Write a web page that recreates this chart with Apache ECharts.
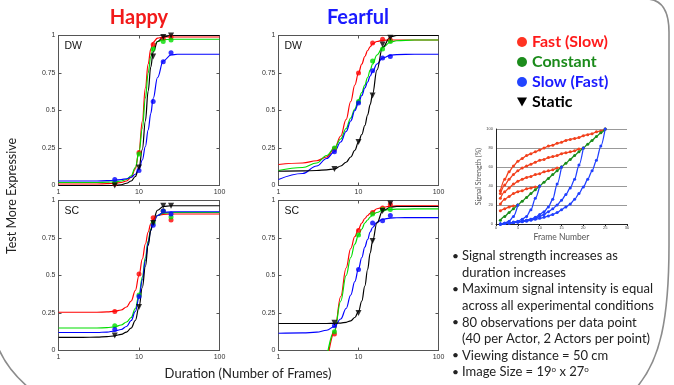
<!DOCTYPE html>
<html>
<head>
<meta charset="utf-8">
<script src="https://cdn.jsdelivr.net/npm/echarts@6/dist/echarts.min.js"></script>
<style>
html, body { margin: 0; padding: 0; background: #fff; }
#main { width: 674px; height: 385px; }
</style>
</head>
<body>
<div id="main"></div>
<script>
// durations where the data points were measured
const durations = [5, 10, 15, 20, 25];
const fitX = [1, 2, 3, 4, 5, 6, 7, 8, 9, 10, 11, 12, 13, 14, 15, 17, 20, 25, 30, 50, 100];
const conditionNames = ['Fast (Slow)', 'Constant', 'Slow (Fast)', 'Static'];

// Happy - DW
const happyDwFast = [0.01, 0.22, 0.94, 0.98, 0.99];
const happyDwConst = [0.02, 0.21, 0.91, 0.96, 0.97];
const happyDwSlow = [0.04, 0.10, 0.56, 0.825, 0.885];
const happyDwStatic = [0.0, 0.12, 0.86, 0.99, 1.0];
const happyDwFastFit = [0.01, 0.01, 0.01, 0.012, 0.015, 0.02, 0.03, 0.055, 0.11, 0.23, 0.43, 0.65, 0.81, 0.91, 0.955, 0.983, 0.99, 0.99, 0.99, 0.99, 0.99];
const happyDwConstFit = [0.02, 0.02, 0.02, 0.022, 0.025, 0.03, 0.04, 0.065, 0.12, 0.22, 0.38, 0.58, 0.75, 0.86, 0.92, 0.96, 0.972, 0.975, 0.975, 0.975, 0.975];
const happyDwSlowFit = [0.03, 0.03, 0.03, 0.032, 0.035, 0.04, 0.045, 0.055, 0.075, 0.11, 0.17, 0.26, 0.37, 0.48, 0.58, 0.72, 0.83, 0.87, 0.875, 0.875, 0.875];
const happyDwStaticFit = [0, 0, 0, 0, 0, 0.005, 0.015, 0.03, 0.06, 0.12, 0.24, 0.43, 0.63, 0.79, 0.89, 0.96, 0.99, 1, 1, 1, 1];

// Happy - SC
const happyScFast = [0.26, 0.51, 0.885, 0.93, 0.87];
const happyScConst = [0.165, 0.37, 0.85, 0.93, 0.89];
const happyScSlow = [0.14, 0.36, 0.835, 0.93, 0.91];
const happyScStatic = [0.10, 0.29, 0.85, 0.965, 0.965];
const happyScFastFit = [0.255, 0.255, 0.255, 0.257, 0.262, 0.27, 0.29, 0.33, 0.40, 0.50, 0.61, 0.71, 0.79, 0.845, 0.875, 0.90, 0.908, 0.91, 0.91, 0.91, 0.91];
const happyScConstFit = [0.15, 0.15, 0.15, 0.152, 0.158, 0.17, 0.19, 0.22, 0.28, 0.37, 0.49, 0.62, 0.73, 0.81, 0.86, 0.90, 0.915, 0.92, 0.92, 0.92, 0.92];
const happyScSlowFit = [0.12, 0.12, 0.12, 0.123, 0.13, 0.14, 0.16, 0.20, 0.26, 0.35, 0.47, 0.60, 0.72, 0.80, 0.85, 0.90, 0.92, 0.925, 0.925, 0.925, 0.925];
const happyScStaticFit = [0.088, 0.088, 0.089, 0.092, 0.098, 0.108, 0.123, 0.15, 0.20, 0.29, 0.42, 0.56, 0.70, 0.80, 0.87, 0.935, 0.96, 0.965, 0.965, 0.965, 0.965];

// Fearful - DW
const fearDwFast = [0.245, 0.75, 0.95, 0.975, 0.97];
const fearDwConst = [0.25, 0.56, 0.83, 0.91, 0.96];
const fearDwSlow = [0.225, 0.55, 0.765, 0.85, 0.86];
const fearDwStatic = [0.11, 0.29, 0.60, 0.94, 0.985];
const fearDwFastFit = [0.14, 0.15, 0.165, 0.19, 0.245, 0.33, 0.44, 0.56, 0.67, 0.75, 0.81, 0.86, 0.90, 0.925, 0.945, 0.96, 0.968, 0.97, 0.97, 0.97, 0.97];
const fearDwConstFit = [0.10, 0.12, 0.15, 0.20, 0.25, 0.31, 0.38, 0.45, 0.51, 0.57, 0.62, 0.67, 0.72, 0.77, 0.81, 0.87, 0.92, 0.955, 0.965, 0.97, 0.97];
const fearDwSlowFit = [0.04, 0.08, 0.13, 0.18, 0.225, 0.29, 0.36, 0.43, 0.50, 0.55, 0.60, 0.65, 0.69, 0.73, 0.76, 0.81, 0.85, 0.868, 0.873, 0.875, 0.875];
const fearDwStaticFit = [0.095, 0.097, 0.10, 0.104, 0.11, 0.13, 0.155, 0.19, 0.235, 0.29, 0.34, 0.40, 0.47, 0.54, 0.61, 0.77, 0.92, 0.99, 1, 1, 1];

// Fearful - SC
const fearScFast = [0.11, 0.80, 0.92, 0.95, 0.975];
const fearScConst = [0.125, 0.77, 0.91, 0.94, 0.94];
const fearScSlow = [0.165, 0.54, 0.85, 0.865, 0.90];
const fearScStatic = [0.185, 0.25, 0.73, 0.93, 0.98];
const fearScFastFit = [null, null, null, -0.1, 0.12, 0.36, 0.55, 0.68, 0.76, 0.81, 0.85, 0.88, 0.90, 0.915, 0.925, 0.945, 0.955, 0.962, 0.964, 0.965, 0.965];
const fearScConstFit = [null, null, null, -0.05, 0.13, 0.33, 0.50, 0.62, 0.71, 0.77, 0.81, 0.85, 0.87, 0.89, 0.905, 0.92, 0.935, 0.94, 0.942, 0.944, 0.944];
const fearScSlowFit = [0.115, 0.117, 0.122, 0.135, 0.16, 0.21, 0.28, 0.37, 0.46, 0.545, 0.62, 0.69, 0.74, 0.79, 0.82, 0.855, 0.875, 0.883, 0.885, 0.886, 0.886];
const fearScStaticFit = [0.18, 0.18, 0.18, 0.18, 0.181, 0.183, 0.188, 0.198, 0.22, 0.26, 0.33, 0.43, 0.54, 0.65, 0.73, 0.85, 0.93, 0.955, 0.96, 0.96, 0.96];

// inset: signal strength (%) per frame, starting at frame 1
const insetFastA = [35, 47, 55, 61, 66, 69, 72, 74, 76, 78, 80, 82, 83, 85, 86, 88, 89, 90, 91, 93, 94, 95, 97, 98, 100];
const insetFastB = [32, 41, 47, 52, 56, 59, 61, 63, 65, 67, 68, 70, 71, 72, 74, 75, 76, 77, 79, 80];
const insetFastC = [27, 34, 38, 42, 45, 47, 49, 50, 52, 53, 55, 56, 57, 59, 60];
const insetFastD = [21, 26, 29, 32, 34, 35, 37, 38, 39, 40];
const insetFastE = [14, 16, 18, 19, 20];
const insetConstant = [4, 8, 12, 16, 20, 24, 28, 32, 36, 40, 44, 48, 52, 56, 60, 64, 68, 72, 76, 80, 84, 88, 92, 96, 100];
const insetSlowA = [0, 0.5, 1, 1.5, 2, 2.5, 3, 4, 5, 6, 7, 8.5, 10, 12, 15, 18, 21, 26, 32, 39, 47, 56, 67, 82, 100];
const insetSlowB = [0, 0.5, 1, 1.5, 2, 3, 4, 5, 6, 8, 10, 13, 16, 20, 25, 31, 38, 47, 62, 80];
const insetSlowC = [0, 0.5, 1, 1.5, 2, 3, 4, 5, 7, 10, 13, 18, 26, 42, 60];
const insetSlowD = [0, 0.5, 1, 2, 3, 5, 8, 15, 27, 40];
const insetSlowE = [0, 1, 3, 8, 20];

const bulletLines = [
    ['Signal strength increases as', 'duration increases'],
    ['Maximum signal intensity is equal', 'across all experimental conditions'],
    ['80 observations per data point', '(40 per Actor, 2 Actors per point)'],
    ['Viewing distance = 50 cm'],
    ['Image Size = 19{s|o} x 27{s|o}']
];

const lineColors = ['#ff0000', '#00dd00', '#0000ff', '#000000'];
const axisColor = '#555';
const slideFont = 'Lato';

const panels = [
    { label: 'DW', grid: { left: 58.5, top: 35.5, width: 161, height: 150 },
      points: [happyDwFast, happyDwConst, happyDwSlow, happyDwStatic],
      fits: [happyDwFastFit, happyDwConstFit, happyDwSlowFit, happyDwStaticFit] },
    { label: 'SC', grid: { left: 58.5, top: 200.5, width: 161, height: 150 },
      points: [happyScFast, happyScConst, happyScSlow, happyScStatic],
      fits: [happyScFastFit, happyScConstFit, happyScSlowFit, happyScStaticFit] },
    { label: 'DW', grid: { left: 278.5, top: 35.5, width: 160, height: 150 },
      points: [fearDwFast, fearDwConst, fearDwSlow, fearDwStatic],
      fits: [fearDwFastFit, fearDwConstFit, fearDwSlowFit, fearDwStaticFit] },
    { label: 'SC', grid: { left: 278.5, top: 200.5, width: 160, height: 150 },
      points: [fearScFast, fearScConst, fearScSlow, fearScStatic],
      fits: [fearScFastFit, fearScConstFit, fearScSlowFit, fearScStaticFit] }
];

const grids = [];
const xAxes = [];
const yAxes = [];
const series = [];
const graphics = [];

panels.forEach((panel, gi) => {
    grids.push(panel.grid);
    const xBase = {
        gridIndex: gi, type: 'log', logBase: 10, min: 1, max: 100,
        axisLine: { show: true, onZero: false, lineStyle: { color: axisColor, width: 1 } },
        axisTick: { show: true, inside: true, length: 3, lineStyle: { color: axisColor } },
        splitLine: { show: false }
    };
    xAxes.push(Object.assign({}, xBase, {
        position: 'bottom',
        axisLabel: { fontSize: 7, color: '#333', margin: 3, fontFamily: 'Liberation Sans' }
    }));
    xAxes.push(Object.assign({}, xBase, { position: 'top', axisLabel: { show: false } }));

    const yBase = {
        gridIndex: gi, type: 'value', min: 0, max: 1, interval: 0.25,
        axisLine: { show: true, lineStyle: { color: axisColor, width: 1 } },
        axisTick: { show: true, inside: true, length: 3, lineStyle: { color: axisColor } },
        splitLine: { show: false }
    };
    yAxes.push(Object.assign({}, yBase, {
        position: 'left',
        axisLabel: { fontSize: 7, color: '#333', margin: 3, fontFamily: 'Liberation Sans' }
    }));
    yAxes.push(Object.assign({}, yBase, { position: 'right', axisLabel: { show: false } }));

    panel.fits.forEach((ys, c) => {
        series.push({
            name: conditionNames[c], type: 'line',
            xAxisIndex: 2 * gi, yAxisIndex: 2 * gi,
            data: fitX.map((x, k) => [x, ys[k]]),
            showSymbol: false, symbol: 'none',
            smooth: 0.4, smoothMonotone: 'x',
            lineStyle: { color: lineColors[c], width: 1.2 },
            z: 2
        });
    });
    panel.points.forEach((ys, c) => {
        const isStatic = c === 3;
        series.push({
            name: conditionNames[c], type: 'scatter',
            xAxisIndex: 2 * gi, yAxisIndex: 2 * gi,
            data: durations.map((x, k) => [x, ys[k]]),
            symbol: isStatic ? 'triangle' : 'circle',
            symbolRotate: isStatic ? 180 : 0,
            symbolSize: isStatic ? 6 : 5,
            itemStyle: { color: lineColors[c] },
            z: 3
        });
    });

    graphics.push({
        type: 'text', x: panel.grid.left + 6, y: panel.grid.top + 11,
        style: { text: panel.label, font: '10.5px "Liberation Sans"', fill: '#111',
                 textVerticalAlign: 'middle', verticalAlign: 'middle' }
    });
});

// inset chart
grids.push({ left: 496, top: 129, width: 131, height: 95 });
xAxes.push({
    gridIndex: 4, type: 'value', min: 0, max: 30, interval: 5,
    name: 'Frame Number', nameLocation: 'middle', nameGap: 9,
    nameTextStyle: { fontSize: 8.5, color: '#555', fontFamily: slideFont },
    axisLine: { show: true, onZero: false, lineStyle: { color: '#222', width: 1 } },
    axisTick: { show: true, length: 2, lineStyle: { color: '#222' } },
    axisLabel: { fontSize: 4, color: '#444', margin: 2 },
    splitLine: { show: false }
});
yAxes.push({
    gridIndex: 4, type: 'value', min: 0, max: 100, interval: 20,
    name: 'Signal Strength (%)', nameLocation: 'middle', nameGap: 12, nameRotate: 90,
    nameTextStyle: { fontSize: 7, color: '#555', fontFamily: slideFont },
    axisLine: { show: true, lineStyle: { color: '#222', width: 1 } },
    axisTick: { show: false },
    axisLabel: { fontSize: 4, color: '#444', margin: 3 },
    splitLine: { show: true, lineStyle: { color: '#999', width: 1 } }
});

function insetSeries(values, color, z) {
    return {
        type: 'line', xAxisIndex: 8, yAxisIndex: 8,
        data: values.map((v, i) => [i + 1, v]),
        symbol: 'circle', symbolSize: 3, showSymbol: true,
        smooth: 0.3, smoothMonotone: 'x',
        lineStyle: { color: color, width: 1.3 },
        itemStyle: { color: color },
        z: z
    };
}
[insetFastA, insetFastB, insetFastC, insetFastD, insetFastE].forEach(v => series.push(insetSeries(v, '#f2401c', 4)));
series.push(insetSeries(insetConstant, '#1a8c1a', 5));
[insetSlowA, insetSlowB, insetSlowC, insetSlowD, insetSlowE].forEach(v => series.push(insetSeries(v, '#2040ff', 6)));

// slide frame (gray rounded border)
const frameStyle = { stroke: '#8c8c8c', lineWidth: 1.6, fill: null };
graphics.push({ type: 'bezierCurve', shape: { x1: 646, y1: -1, cpx1: 663, cpy1: -1, cpx2: 669, cpy2: 12, x2: 669, y2: 32 }, style: frameStyle });
graphics.push({ type: 'line', shape: { x1: 669, y1: 32, x2: 669, y2: 245 }, style: frameStyle });
graphics.push({ type: 'bezierCurve', shape: { x1: 669, y1: 245, cpx1: 669, cpy1: 320, cpx2: 660, cpy2: 360, x2: 637, y2: 387 }, style: frameStyle });
graphics.push({ type: 'bezierCurve', shape: { x1: -2, y1: 347, cpx1: 4, cpy1: 362, cpx2: 14, cpy2: 375, x2: 29, y2: 388 }, style: frameStyle });

// titles and axis names
graphics.push({ type: 'text', x: 139, y: 18, style: { text: 'Happy', font: 'bold 20px ' + slideFont, fill: '#f21a1a', align: 'center', verticalAlign: 'middle', textAlign: 'center', textVerticalAlign: 'middle' } });
graphics.push({ type: 'text', x: 358, y: 18, style: { text: 'Fearful', font: 'bold 20px ' + slideFont, fill: '#1a1aff', align: 'center', verticalAlign: 'middle', textAlign: 'center', textVerticalAlign: 'middle' } });
graphics.push({ type: 'text', x: 12, y: 196, rotation: Math.PI / 2, style: { text: 'Test More Expressive', font: '12.5px ' + slideFont, fill: '#222', align: 'center', verticalAlign: 'middle', textAlign: 'center', textVerticalAlign: 'middle' } });
graphics.push({ type: 'text', x: 248, y: 374, style: { text: 'Duration (Number of Frames)', font: '13px ' + slideFont, fill: '#222', align: 'center', verticalAlign: 'middle', textAlign: 'center', textVerticalAlign: 'middle' } });

// bullet list
let lineY = 256;
bulletLines.forEach(lines => {
    graphics.push({ type: 'text', x: 452, y: lineY, style: { text: '•', font: '12px ' + slideFont, fill: '#222', verticalAlign: 'middle', textVerticalAlign: 'middle' } });
    lines.forEach(t => {
        graphics.push({ type: 'text', x: 462, y: lineY, style: {
            text: t, font: '13px ' + slideFont, fill: '#222',
            verticalAlign: 'middle', textVerticalAlign: 'middle',
            rich: { s: { fontSize: 8, verticalAlign: 'top', fontFamily: slideFont, fill: '#222' } }
        } });
        lineY += 16.6;
    });
});

const chart = echarts.init(document.getElementById('main'));
chart.setOption({
    animation: false,
    backgroundColor: '#fff',
    grid: grids,
    xAxis: xAxes,
    yAxis: yAxes,
    legend: {
        orient: 'vertical', left: 512, top: 29,
        itemWidth: 10, itemHeight: 10, itemGap: 4,
        selectedMode: false,
        textStyle: { fontFamily: slideFont, fontSize: 16, fontWeight: 'bold' },
        data: [
            { name: 'Fast (Slow)', icon: 'circle', itemStyle: { color: '#ff3322' }, textStyle: { color: '#ff1a1a' } },
            { name: 'Constant', icon: 'circle', itemStyle: { color: '#1c8c1c' }, textStyle: { color: '#1a8a1a' } },
            { name: 'Slow (Fast)', icon: 'circle', itemStyle: { color: '#2244ff' }, textStyle: { color: '#1a1aff' } },
            { name: 'Static', icon: 'path://M0,0L10,0L5,9Z', itemStyle: { color: '#000' }, textStyle: { color: '#000' } }
        ]
    },
    graphic: graphics,
    series: series
});
</script>
</body>
</html>
